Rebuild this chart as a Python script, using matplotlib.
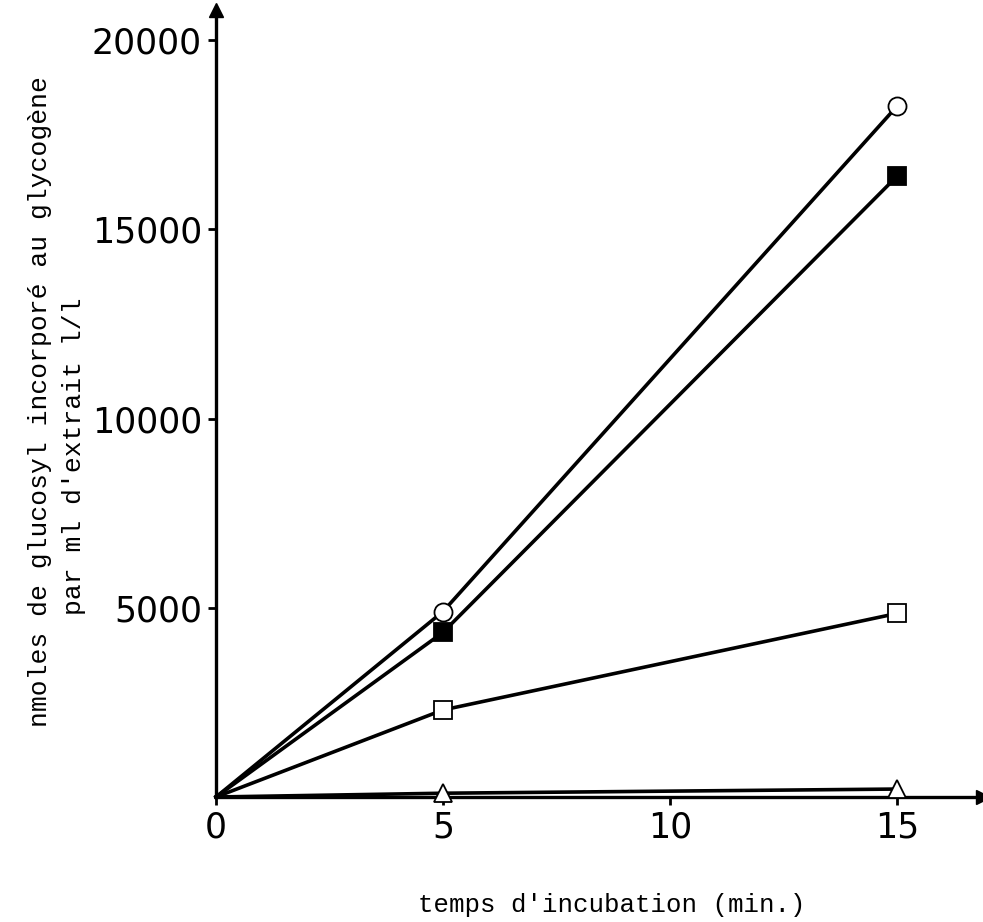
import numpy as np
import matplotlib.pyplot as plt

# Incubation times (min)
temps = [0, 5, 15]
# nmoles glucosyl incorporated per ml extract, one series per condition
cercles = [0, 4900, 18250]
carres_pleins = [0, 4350, 16400]
carres_vides = [0, 2300, 4850]
triangles = [0, 100, 210]

x_ticks = [0, 5, 10, 15]
y_ticks = [5000, 10000, 15000, 20000]

plt.rcParams['font.family'] = ['DejaVu Sans']
fig = plt.figure(figsize=(9.83, 9.22), dpi=100)
ax = fig.add_axes([216 / 983, 125 / 922, 767 / 983, 787 / 922])

# Lines drawn under the markers, markers with white faces, no marker at the origin
style = dict(color='black', lw=2.6, markersize=13, markeredgewidth=1.3, markevery=[1, 2],
             zorder=3, clip_on=False)
ax.plot(temps, triangles, marker='^', mfc='white', mec='black', **style)
ax.plot(temps, carres_vides, marker='s', mfc='white', mec='black', **style)
ax.plot(temps, carres_pleins, marker='s', mfc='black', mec='black', **style)
ax.plot(temps, cercles, marker='o', mfc='white', mec='black', **style)

ax.set_xlim(0, 16.9)
ax.set_ylim(0, 20800)

# Arrowed axes
for s in ['top', 'right']:
  ax.spines[s].set_visible(False)
ax.spines['left'].set_linewidth(2.4)
ax.spines['bottom'].set_linewidth(2.4)
ax.plot(1, 0, '>k', markersize=10, transform=ax.get_yaxis_transform(), clip_on=False)
ax.plot(0, 1, '^k', markersize=10, transform=ax.get_xaxis_transform(), clip_on=False)

ax.set_xticks(x_ticks)
ax.set_yticks(y_ticks)
ax.set_xticklabels([str(t) for t in x_ticks])
ax.set_yticklabels([str(t) for t in y_ticks])
ax.tick_params(axis='both', labelsize=25, width=2, length=6, pad=4, direction='out')

fig.text(612 / 983, 1 - 905 / 922, "temps d'incubation (min.)", ha='center', va='center',
         family='Liberation Mono', fontsize=18.5)
fig.text(40 / 983, 1 - 402 / 922, "nmoles de glucosyl incorporé au glycogène", ha='center', va='center',
         rotation=90, family='Liberation Mono', fontsize=19)
fig.text(74 / 983, 1 - 456 / 922, "par ml d'extrait l/l", ha='center', va='center',
         rotation=90, family='Liberation Mono', fontsize=19)

fig.savefig('out.png', dpi=100)
